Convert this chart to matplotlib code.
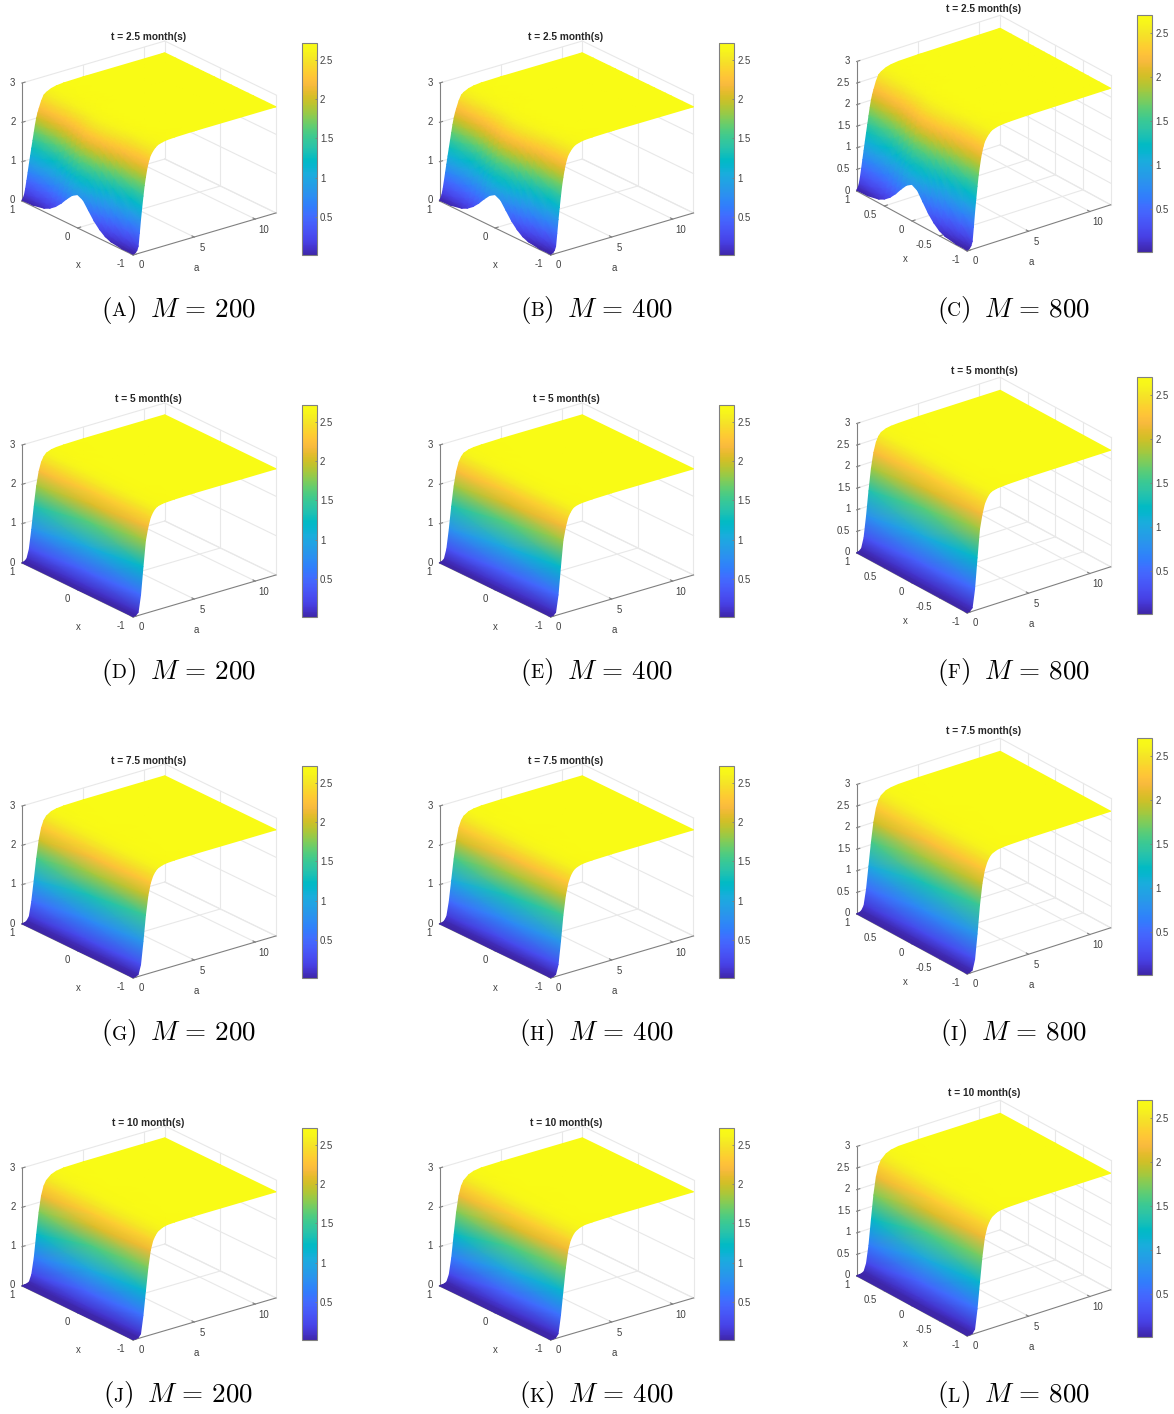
import numpy as np
import matplotlib
matplotlib.use('Agg')
import matplotlib.pyplot as plt
from matplotlib import cm
from matplotlib.colors import LinearSegmentedColormap, Normalize
from mpl_toolkits.mplot3d import proj3d

plt.rcParams['font.family'] = ['Liberation Sans', 'DejaVu Sans']
plt.rcParams['mathtext.fontset'] = 'cm'

FIG_W, FIG_H = 1174, 1414

# values
a_amax = 11.7

a_early = [0, .1, .2, .3, .4, .5, .6, .7, .8, .9, 1.0, 1.1, 1.2, 1.3, 1.4, 1.6, 1.8, 2.0, 2.4, 2.8, 3.4, 5.0, a_amax]
x_early = [1, .8, .6, .5, .4, .3, .2, .1, 0, -.1, -.2, -.3, -.4, -.5, -.6, -.8, -1]
z_t25 = [
    [.02, .06, .14, .29, .48, .68, .88, 1.08, 1.27, 1.46, 1.65, 1.84, 2.00, 2.12, 2.22, 2.40, 2.53, 2.58, 2.64, 2.67, 2.69, 2.70, 2.70],
    [.03, .09, .20, .35, .52, .72, .92, 1.12, 1.32, 1.51, 1.70, 1.88, 2.03, 2.15, 2.25, 2.42, 2.54, 2.59, 2.64, 2.67, 2.69, 2.70, 2.70],
    [.09, .18, .30, .45, .62, .82, 1.02, 1.22, 1.42, 1.61, 1.80, 1.96, 2.10, 2.21, 2.30, 2.45, 2.55, 2.60, 2.65, 2.68, 2.69, 2.70, 2.70],
    [.16, .26, .38, .53, .70, .90, 1.09, 1.29, 1.49, 1.68, 1.86, 2.02, 2.15, 2.25, 2.33, 2.47, 2.56, 2.61, 2.65, 2.68, 2.69, 2.70, 2.70],
    [.27, .38, .50, .65, .82, 1.01, 1.20, 1.40, 1.60, 1.78, 1.95, 2.09, 2.20, 2.30, 2.38, 2.50, 2.57, 2.62, 2.66, 2.68, 2.69, 2.70, 2.70],
    [.42, .54, .67, .82, .99, 1.17, 1.35, 1.55, 1.74, 1.91, 2.07, 2.18, 2.28, 2.36, 2.43, 2.53, 2.59, 2.63, 2.66, 2.68, 2.69, 2.70, 2.70],
    [.60, .74, .88, 1.03, 1.18, 1.35, 1.52, 1.70, 1.88, 2.04, 2.18, 2.28, 2.36, 2.42, 2.47, 2.55, 2.60, 2.64, 2.67, 2.69, 2.70, 2.70, 2.70],
    [.76, .90, 1.04, 1.19, 1.34, 1.51, 1.68, 1.85, 2.03, 2.18, 2.30, 2.38, 2.44, 2.49, 2.53, 2.59, 2.62, 2.65, 2.68, 2.69, 2.70, 2.70, 2.70],
    [.85, 1.00, 1.14, 1.29, 1.44, 1.61, 1.78, 1.95, 2.12, 2.26, 2.36, 2.43, 2.48, 2.52, 2.55, 2.60, 2.63, 2.65, 2.68, 2.69, 2.70, 2.70, 2.70],
    [.78, .94, 1.10, 1.26, 1.42, 1.60, 1.78, 1.96, 2.13, 2.27, 2.38, 2.45, 2.50, 2.53, 2.56, 2.60, 2.63, 2.65, 2.68, 2.69, 2.70, 2.70, 2.70],
    [.58, .76, .96, 1.14, 1.32, 1.52, 1.72, 1.91, 2.10, 2.25, 2.37, 2.44, 2.49, 2.53, 2.56, 2.60, 2.63, 2.65, 2.68, 2.69, 2.70, 2.70, 2.70],
    [.38, .55, .74, .94, 1.14, 1.35, 1.57, 1.79, 2.00, 2.18, 2.32, 2.41, 2.47, 2.51, 2.54, 2.59, 2.62, 2.65, 2.68, 2.69, 2.70, 2.70, 2.70],
    [.23, .36, .54, .74, .96, 1.18, 1.42, 1.66, 1.90, 2.09, 2.25, 2.35, 2.43, 2.48, 2.52, 2.58, 2.62, 2.65, 2.68, 2.69, 2.70, 2.70, 2.70],
    [.12, .22, .36, .56, .79, 1.02, 1.28, 1.52, 1.76, 1.97, 2.14, 2.27, 2.37, 2.44, 2.49, 2.56, 2.60, 2.64, 2.67, 2.69, 2.70, 2.70, 2.70],
    [.06, .13, .25, .43, .66, .90, 1.16, 1.40, 1.64, 1.86, 2.04, 2.19, 2.30, 2.38, 2.44, 2.53, 2.59, 2.63, 2.67, 2.69, 2.70, 2.70, 2.70],
    [.02, .05, .11, .23, .42, .68, .94, 1.22, 1.48, 1.72, 1.92, 2.08, 2.22, 2.33, 2.41, 2.51, 2.58, 2.62, 2.66, 2.68, 2.69, 2.70, 2.70],
    [.02, .03, .05, .09, .18, .50, .84, 1.14, 1.42, 1.68, 1.88, 2.06, 2.20, 2.31, 2.40, 2.50, 2.57, 2.62, 2.66, 2.68, 2.69, 2.70, 2.70],
]

a_late = [0, .2, .4, .6, .8, 1.0, 1.2, 1.4, 1.6, 1.8, 2.0, 2.4, 2.8, 3.4, 5.0, a_amax]
x_late = [1, 0, -1]
z_t5 = [
    [.01, .02, .07, .30, .78, 1.35, 1.85, 2.20, 2.42, 2.54, 2.61, 2.66, 2.68, 2.69, 2.70, 2.70],
    [.01, .03, .10, .42, 1.02, 1.62, 2.05, 2.33, 2.48, 2.58, 2.63, 2.67, 2.69, 2.70, 2.70, 2.70],
    [.01, .02, .08, .50, 1.20, 1.85, 2.17, 2.40, 2.52, 2.60, 2.64, 2.67, 2.68, 2.69, 2.70, 2.70],
]
z_t75 = [
    [.01, .01, .04, .14, .50, 1.02, 1.55, 2.00, 2.30, 2.47, 2.56, 2.64, 2.67, 2.69, 2.70, 2.70],
    [.01, .02, .06, .24, .72, 1.32, 1.85, 2.22, 2.42, 2.54, 2.60, 2.66, 2.68, 2.69, 2.70, 2.70],
    [.01, .02, .05, .28, .85, 1.50, 1.98, 2.28, 2.45, 2.55, 2.61, 2.66, 2.68, 2.69, 2.70, 2.70],
]
z_t10 = [
    [.01, .01, .02, .05, .22, .62, 1.20, 1.75, 2.15, 2.38, 2.50, 2.61, 2.66, 2.69, 2.70, 2.70],
    [.01, .01, .03, .12, .45, 1.00, 1.58, 2.05, 2.32, 2.48, 2.56, 2.64, 2.67, 2.69, 2.70, 2.70],
    [.01, .01, .02, .10, .55, 1.15, 1.72, 2.15, 2.38, 2.50, 2.58, 2.65, 2.68, 2.69, 2.70, 2.70],
]

titles = ['t = 2.5 month(s)', 't = 5 month(s)', 't = 7.5 month(s)', 't = 10 month(s)']
row_a = [a_early, a_late, a_late, a_late]
row_x = [x_early, x_late, x_late, x_late]
row_z = [z_t25, z_t5, z_t75, z_t10]
m_vals = [200, 400, 800]
letters = 'ABCDEFGHIJKL'

a_ticks = [0, 5, 10]
cbar_ticks = [.5, 1, 1.5, 2, 2.5]
cbar_labels = ['0.5', '1', '1.5', '2', '2.5']
z_ticks_short = [0, 1, 2, 3]
z_labels_short = ['0', '1', '2', '3']
x_ticks_short = [1, 0, -1]
x_labels_short = ['1', '0', '-1']
z_ticks_long = [0, .5, 1, 1.5, 2, 2.5, 3]
z_labels_long = ['0', '0.5', '1', '1.5', '2', '2.5', '3']
x_ticks_long = [1, .5, 0, -.5, -1]
x_labels_long = ['1', '0.5', '0', '-0.5', '-1']

parula_colors = [
    (.2422, .1504, .6603), (.2647, .1978, .7952), (.2783, .2559, .8991), (.2813, .3006, .9414),
    (.2795, .3447, .9717), (.2699, .3892, .9906), (.2440, .4358, .9988), (.1963, .4847, .9892),
    (.1786, .5289, .9682), (.1687, .5703, .9359), (.1460, .6091, .9079), (.1248, .6459, .8883),
    (.0952, .6798, .8598), (.0297, .7082, .8163), (.0067, .7312, .7660), (.0964, .7500, .7120),
    (.1717, .7670, .6554), (.2161, .7843, .5923), (.2906, .7973, .5188), (.3909, .8029, .4354),
    (.5044, .7993, .3480), (.6174, .7876, .2612), (.7242, .7698, .1910), (.8203, .7498, .1535),
    (.9035, .7330, .1774), (.9728, .7298, .2394), (.9970, .7659, .2199), (.9892, .8136, .1885),
    (.9676, .8639, .1643), (.9597, .9135, .1423), (.9691, .9606, .1064), (.9769, .9839, .0805),
]
parula = LinearSegmentedColormap.from_list('parula', parula_colors, N=256)
norm = Normalize(.01, 2.71)

GRID = '#e8e8e8'
AXC = '#808080'
TXT = '#404040'

# layout, all in pixels of the final picture
row_off = [0, 362, 723, 1085]
col_left = [22, 439.5, 856.7]       # x of the z axis
col_base = [201, 201, 191]          # y of the (a=0, x=1, z=0) corner
col_elev = [22.2, 22.2, 24.7]
col_azim = [232.1, 232.1, 232.4]
col_zbox = [.704, .704, .787]
col_title = [(148.5, 37.5), (566, 37.5), (984, 8.5)]
col_cap = [178.5, 596.5, 1013.5]
col_cbar = [(301.5, 43.3, 15, 212), (719, 43.3, 15, 212), (1136.7, 14.7, 15, 237)]
SPAN = 254   # pixels between left and right corner of the floor


def rect_px(x0, top, w, h):
    return [x0 / FIG_W, 1 - (top + h) / FIG_H, w / FIG_W, h / FIG_H]


def project(ax3, a, x, z):
    a, x, z = np.broadcast_arrays(np.asarray(a, float), np.asarray(x, float), np.asarray(z, float))
    tx, ty, _ = proj3d.proj_transform(a.ravel(), x.ravel(), z.ravel(), ax3.get_proj())
    return np.reshape(tx, a.shape), np.reshape(ty, a.shape)


def draw_box(ax3, z_ticks, x_ticks):
    z_top = z_ticks[-1]
    for z in z_ticks:
        ax3.plot([0, a_amax], [1, 1], [z, z], color=GRID, lw=.8)
        ax3.plot([a_amax, a_amax], [1, -1], [z, z], color=GRID, lw=.8)
    for a in a_ticks[1:] + [a_amax]:
        ax3.plot([a, a], [1, 1], [0, z_top], color=GRID, lw=.8)
        ax3.plot([a, a], [1, -1], [0, 0], color=GRID, lw=.8)
    for x in x_ticks[1:]:
        ax3.plot([a_amax, a_amax], [x, x], [0, z_top], color=GRID, lw=.8)
        if x > -1:
            ax3.plot([0, a_amax], [x, x], [0, 0], color=GRID, lw=.8)
    # axis lines and tick marks
    ax3.plot([0, 0], [1, 1], [0, z_top], color=AXC, lw=.8)
    ax3.plot([0, 0], [1, -1], [0, 0], color=AXC, lw=.8)
    ax3.plot([0, a_amax], [-1, -1], [0, 0], color=AXC, lw=.8)
    for z in z_ticks:
        ax3.plot([0, .25], [1, 1], [z, z], color=AXC, lw=.8)
    for x in x_ticks:
        ax3.plot([0, .25], [x, x], [0, 0], color=AXC, lw=.8)
    for a in a_ticks:
        ax3.plot([a, a], [-1, -.96], [0, 0], color=AXC, lw=.8)


def draw_panel(row, col):
    off = row_off[row]
    ax3 = fig.add_axes([0, 0, .5, .5], projection='3d', proj_type='ortho')
    ax3.set_axis_off()
    ax3.view_init(elev=col_elev[col], azim=col_azim[col])
    ax3.set_box_aspect((1, 1, col_zbox[col]))
    ax3.set_xlim(0, a_amax, view_margin=0)
    ax3.set_ylim(-1, 1, view_margin=0)
    ax3.set_zlim(0, 3, view_margin=0)
    ax3.computed_zorder = False

    # put the axes so that the floor corners land on the reference pixels
    lx, ly = project(ax3, 0, 1, 0)
    rx, _ = project(ax3, a_amax, -1, 0)
    xlim, ylim = ax3.viewLim.intervalx, ax3.viewLim.intervaly
    scale = SPAN / (rx - lx)
    w = scale * (xlim[1] - xlim[0])
    x0 = col_left[col] - (lx - xlim[0]) * scale
    top = col_base[col] + off - (ylim[1] - ly) * scale
    rect = rect_px(x0, top, w, w)
    ax3.set_position(rect)

    long_ticks = col == 2
    z_ticks = z_ticks_long if long_ticks else z_ticks_short
    z_labels = z_labels_long if long_ticks else z_labels_short
    x_ticks = x_ticks_long if long_ticks else x_ticks_short
    x_labels = x_labels_long if long_ticks else x_labels_short
    draw_box(ax3, z_ticks, x_ticks)

    over = fig.add_axes(rect)
    over.set_xlim(*xlim)
    over.set_ylim(*ylim)
    over.set_axis_off()

    # rows run from the far side to the near side so the near part is painted last
    A, X = np.meshgrid(row_a[row][::-1], row_x[row], indexing='ij')
    Z = np.array(row_z[row], float).T[::-1]
    tx, ty = project(ax3, A, X, Z)
    over.pcolormesh(tx, ty, Z, shading='gouraud', cmap=parula, norm=norm)

    def label(s, a, x, z, dx, dy, ha='center'):
        bx, by = project(ax3, a, x, z)
        over.annotate(s, (float(bx), float(by)), xytext=(dx, -dy), textcoords='offset pixels',
                      ha=ha, va='center', fontsize=6.9, color=TXT)

    for z, s in zip(z_ticks, z_labels):
        label(s, 0, 1, z, -6.5, -.5, ha='right')
    for x, s in zip(x_ticks, x_labels):
        label(s, 0, x, 0, -7.5, 9, ha='right')
    for a in a_ticks:
        label(str(a), a, -1, 0, 8, 10.5)
    if long_ticks:
        label('x', 0, 0, 0, -6.5, 38)
    else:
        label('x', 0, 0, 0, .5, 37)
    label('a', a_amax / 2, -1, 0, -8, 34)

    tx0, ty0 = col_title[col]
    fig.text(tx0 / FIG_W, 1 - (ty0 + off) / FIG_H, titles[row], ha='center', va='center',
             fontsize=7.3, fontweight='bold', color='#262626')

    cx, ctop, cw, ch = col_cbar[col]
    cax = fig.add_axes(rect_px(cx, ctop + off, cw, ch))
    cb = fig.colorbar(cm.ScalarMappable(norm=norm, cmap=parula), cax=cax, ticks=cbar_ticks)
    cb.ax.set_yticklabels(cbar_labels)
    cb.ax.tick_params(length=1.5, width=.6, direction='in', labelsize=6.9, pad=2.5,
                      color=AXC, labelcolor=TXT)
    cb.outline.set_edgecolor(AXC)
    cb.outline.set_linewidth(.8)

    caption(col_cap[col], 316.5 + off, letters[row * 3 + col], m_vals[col])


def caption(xc, base, letter, m):
    # "(A)  M = 200" with the letter in small capitals
    parts = [('$($', 19.5, -1), ('$\\mathrm{%s}$' % letter, 14, -1),
             ('$)$', 19.5, 14), ('$M\\,=\\,%d$' % m, 19.5, 0)]
    renderer = fig.canvas.get_renderer()
    items = []
    total = 0
    for s, size, gap in parts:
        t = fig.text(0, 1 - base / FIG_H, s, fontsize=size, va='baseline', ha='left', color='black')
        width = t.get_window_extent(renderer).width
        items.append((t, total))
        total += width + gap
    for t, dx in items:
        t.set_x((xc - total / 2 + dx) / FIG_W)


fig = plt.figure(figsize=(FIG_W / 100, FIG_H / 100), dpi=100)

for row in range(4):
    for col in range(3):
        draw_panel(row, col)

fig.savefig('out.png', dpi=100)
